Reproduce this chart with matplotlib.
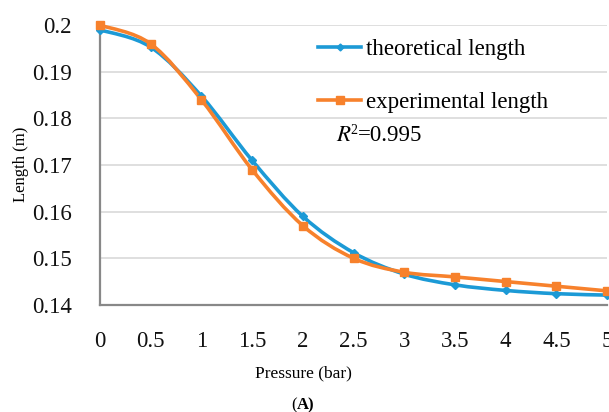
import numpy as np
import matplotlib.pyplot as plt
from matplotlib.path import Path
from matplotlib.patches import PathPatch

# Length of the actuator vs. supply pressure
pressure = [0, 0.5, 1, 1.5, 2, 2.5, 3, 3.5, 4, 4.5, 5]
theoretical = [0.1990, 0.1953, 0.1848, 0.1710, 0.1590, 0.1512, 0.1466, 0.1443, 0.1431, 0.1424, 0.1421]
experimental = [0.2000, 0.1960, 0.1840, 0.1690, 0.1570, 0.1500, 0.1470, 0.1460, 0.1450, 0.1440, 0.1430]

blue = '#1c9ad6'
orange = '#f7812c'

plt.rcParams['font.family'] = ['Liberation Serif', 'DejaVu Serif']


def smooth_path(x, y):
    # Catmull-Rom style cubic Bezier through the points (spreadsheet "smoothed line")
    x = np.asarray(x, float)
    y = np.asarray(y, float)
    verts = [(x[0], y[0])]
    codes = [Path.MOVETO]
    n = len(x)
    for i in range(n - 1):
        i0 = max(i - 1, 0)
        i3 = min(i + 2, n - 1)
        c1 = (x[i] + (x[i + 1] - x[i0]) / 6, y[i] + (y[i + 1] - y[i0]) / 6)
        c2 = (x[i + 1] - (x[i3] - x[i]) / 6, y[i + 1] - (y[i3] - y[i]) / 6)
        verts += [c1, c2, (x[i + 1], y[i + 1])]
        codes += [Path.CURVE4] * 3
    return Path(verts, codes)


fig = plt.figure(figsize=(6.09, 4.12), dpi=100)
ax = fig.add_axes([0.164, 0.26, 0.833, 0.679])

for ys, col in [(theoretical, blue), (experimental, orange)]:
    ax.add_patch(PathPatch(smooth_path(pressure, ys), facecolor='none',
                           edgecolor=col, lw=2.6, zorder=3, clip_on=False))

ax.plot(pressure, theoretical, ls='none', marker='D', ms=4, color=blue,
        zorder=4, clip_on=False)
ax.plot(pressure, experimental, ls='none', marker='s', ms=6, color=orange,
        zorder=5, clip_on=False)

# legend handles
h1, = ax.plot([], [], color=blue, lw=2.6, marker='D', ms=3.5)
h2, = ax.plot([], [], color=orange, lw=2.6, marker='s', ms=5.5)
leg = ax.legend([h1, h2], ['theoretical length', 'experimental length'],
                loc='upper left', bbox_to_anchor=(0.507, 0.927), bbox_transform=fig.transFigure,
                frameon=False, fontsize=16.5, handlelength=1.9, handletextpad=0.2,
                labelspacing=1.38, borderaxespad=0)
fig.text(0.552, 0.672, r'$\mathit{R}$', fontsize=16.5, ha='left', va='center',
         math_fontfamily='stix')
fig.text(0.576, 0.683, '2', fontsize=10, ha='left', va='center')
fig.text(0.588, 0.672, '=0.995', fontsize=16.5, ha='left', va='center')

ax.set_xlim(0, 5)
ax.set_ylim(0.14, 0.2)
ax.set_xticks(pressure)
ax.set_xticklabels(['0', '0.5', '1', '1.5', '2', '2.5', '3', '3.5', '4', '4.5', '5'])
ax.set_yticks([0.14, 0.15, 0.16, 0.17, 0.18, 0.19, 0.2])
ax.set_yticklabels(['0.14', '0.15', '0.16', '0.17', '0.18', '0.19', '0.2'])
ax.tick_params(axis='both', length=0, labelsize=16.5, colors='#111111')
ax.tick_params(axis='x', pad=19)
ax.tick_params(axis='y', pad=20)

ax.grid(axis='y', color='#d9d9d9', lw=1.2)
ax.set_axisbelow(True)
for s in ['top', 'right']:
    ax.spines[s].set_visible(False)
for s in ['left', 'bottom']:
    ax.spines[s].set_color('#888888')
    ax.spines[s].set_linewidth(1.6)

fig.text(0.034, 0.60, 'Length (m)', rotation=90, fontsize=12, ha='center', va='center')
fig.text(0.499, 0.094, 'Pressure (bar)', fontsize=12.5, ha='center', va='center')
fig.text(0.488, 0.017, '(', fontsize=12, ha='right', va='center')
fig.text(0.488, 0.017, 'A)', fontsize=12, ha='left', va='center', weight='bold')

fig.savefig('out.png', dpi=100)
